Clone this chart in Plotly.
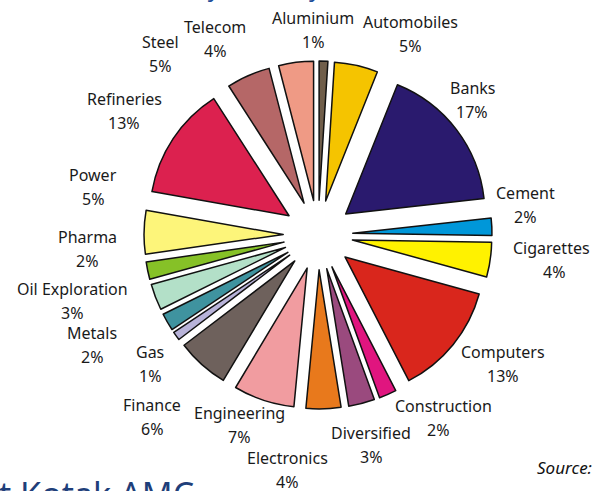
import plotly.graph_objects as go

# ---- data ----
sectors = ["Aluminium", "Automobiles", "Banks", "Cement", "Cigarettes", "Computers",
           "Construction", "Diversified", "Electronics", "Engineering", "Finance", "Gas",
           "Metals", "Oil Exploration", "Pharma", "Power", "Refineries", "Steel", "Telecom"]
shares = [1, 5, 17, 2, 4, 13, 2, 3, 4, 7, 6, 1, 2, 3, 2, 5, 13, 5, 4]

# ---- styles ----
colors = ["#705e4a", "#f5c400", "#2a1a6e", "#0097d9", "#fff200", "#d9261c",
          "#e0157f", "#9a4a7e", "#e8791c", "#f19ca0", "#6e615c", "#b8b3d9",
          "#3f939f", "#b3e0c8", "#86c127", "#fdf57a", "#dc214f", "#b56767", "#ef9a85"]

# label centre positions in pixels (name line), one per sector
label_px = [(313, 18), (410, 22), (472, 88), (525, 193), (551, 248), (503, 352),
            (443, 406), (371, 433), (287, 458), (239, 413), (152, 405), (150, 352),
            (92, 333), (72, 289), (87, 237), (93, 175), (124, 99), (160, 42), (215, 27)]
pct_dx = {"Construction": -5, "Cigarettes": 3}

W, H = 592, 491
L, R, T, B = 144, 100, 61, 82
PW, PH = W - L - R, H - T - B


def to_paper(px, py):
    return (px - L) / PW, 1 - (py - T) / PH


FONT = "Noto Sans"
LBL = 16

fig = go.Figure(go.Pie(
    labels=sectors,
    values=shares,
    sort=False,
    direction="clockwise",
    rotation=0,
    pull=[0.25] * len(shares),
    marker=dict(colors=colors, line=dict(color="#111111", width=1.5)),
    textinfo="none",
    hoverinfo="label+percent",
    showlegend=False,
))

annotations = []
for name, val, (px, py) in zip(sectors, shares, label_px):
    x, y = to_paper(px, py)
    annotations.append(dict(x=x, y=y, xref="paper", yref="paper", text=name,
                            showarrow=False, xanchor="center", yanchor="middle",
                            font=dict(family=FONT, size=LBL, color="#1a1a1a")))
    x2, y2 = to_paper(px + pct_dx.get(name, 0), py + 24)
    annotations.append(dict(x=x2, y=y2, xref="paper", yref="paper", text=f"{val}%",
                            showarrow=False, xanchor="center", yanchor="middle",
                            font=dict(family=FONT, size=LBL, color="#1a1a1a")))

# partially visible page texts
x, y = to_paper(183, -14)
annotations.append(dict(x=x, y=y, xref="paper", yref="paper", text="(By Industry)",
                        showarrow=False, xanchor="left", yanchor="middle",
                        font=dict(family=FONT, size=24, color="#1f4e9a")))
x, y = to_paper(-3, 494)
annotations.append(dict(x=x, y=y, xref="paper", yref="paper", text="t Kotak AMC",
                        showarrow=False, xanchor="left", yanchor="middle",
                        font=dict(family=FONT, size=34, color="#1f3f7a")))
x, y = to_paper(594, 467)
annotations.append(dict(x=x, y=y, xref="paper", yref="paper", text="<i>Source:</i>",
                        showarrow=False, xanchor="right", yanchor="middle",
                        font=dict(family=FONT, size=17, color="#111111")))

fig.update_layout(
    width=W, height=H,
    margin=dict(l=L, r=R, t=T, b=B),
    paper_bgcolor="white",
    plot_bgcolor="white",
    annotations=annotations,
)

fig.write_html("out.html")
